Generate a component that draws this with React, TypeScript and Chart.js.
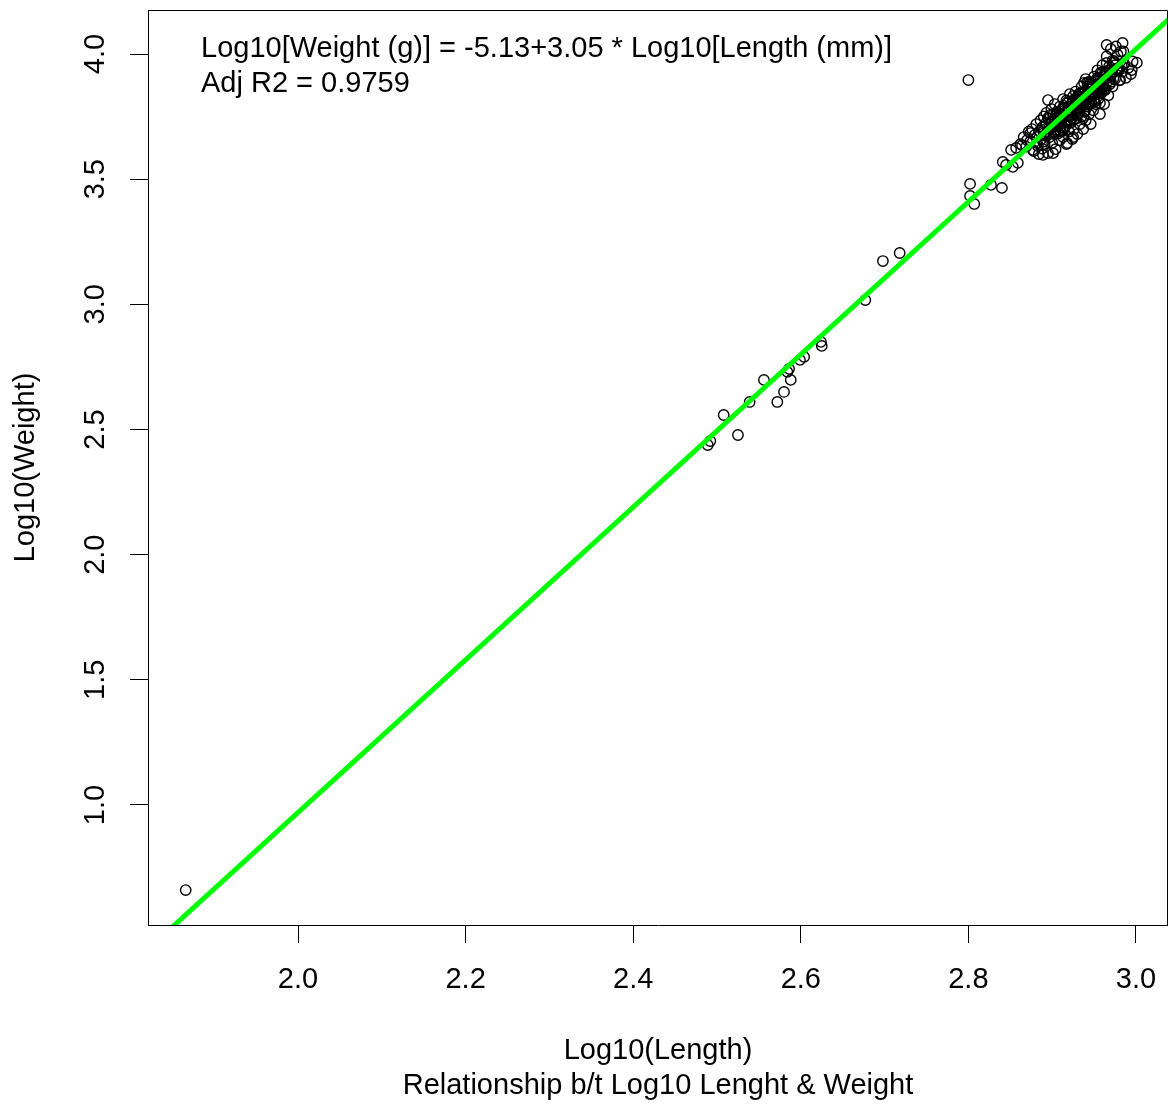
import React, { useEffect, useRef } from "react";
import { Chart, registerables } from "chart.js";

Chart.register(...registerables);

const FONT = '"Liberation Sans", Arial, Helvetica, sans-serif';

const logLength = [
  1.866, 2.489, 2.492, 2.508, 2.525, 2.539, 2.556, 2.572, 2.580, 2.588,
  2.584, 2.586, 2.599, 2.604, 2.625, 2.624, 2.677, 2.698, 2.718, 2.800,
  2.802, 2.802, 2.807, 2.827, 2.840, 2.841, 2.845, 2.853, 2.859, 2.851,
  2.857, 2.864, 2.870, 2.874, 2.877, 2.883, 2.889, 2.862, 2.866, 2.869,
  2.872, 2.874, 2.876, 2.878, 2.879, 2.881, 2.882, 2.884, 2.885, 2.886,
  2.887, 2.888, 2.889, 2.890, 2.890, 2.891, 2.892, 2.893, 2.894, 2.895,
  2.895, 2.896, 2.897, 2.898, 2.899, 2.900, 2.900, 2.901, 2.902, 2.903,
  2.904, 2.904, 2.905, 2.906, 2.907, 2.908, 2.909, 2.909, 2.910, 2.911,
  2.912, 2.913, 2.913, 2.914, 2.915, 2.916, 2.917, 2.917, 2.918, 2.919,
  2.920, 2.920, 2.921, 2.922, 2.923, 2.924, 2.924, 2.925, 2.926, 2.927,
  2.928, 2.929, 2.930, 2.930, 2.931, 2.932, 2.933, 2.934, 2.935, 2.935,
  2.936, 2.937, 2.938, 2.939, 2.940, 2.940, 2.941, 2.942, 2.943, 2.944,
  2.945, 2.946, 2.946, 2.947, 2.948, 2.949, 2.950, 2.951, 2.952, 2.953,
  2.954, 2.955, 2.956, 2.957, 2.958, 2.959, 2.960, 2.961, 2.962, 2.963,
  2.964, 2.965, 2.966, 2.967, 2.968, 2.969, 2.970, 2.971, 2.972, 2.973,
  2.975, 2.976, 2.978, 2.980, 2.982, 2.984, 2.986, 2.988, 2.991, 2.994,
  2.996, 3.001, 2.984, 2.965, 2.995, 2.981, 2.957, 2.937, 2.925, 2.918,
  2.901, 2.903, 2.908, 2.912, 2.915, 2.918, 2.922, 2.925, 2.928, 2.931,
  2.934, 2.937, 2.940, 2.943, 2.946, 2.949, 2.952, 2.956, 2.960, 2.964,
  2.968, 2.910, 2.914, 2.921, 2.926, 2.932, 2.938, 2.944, 2.950, 2.955,
  2.962, 2.906, 2.912, 2.919, 2.924, 2.930, 2.936, 2.942, 2.948, 2.954,
  2.960,
];

const logWeight = [
  0.660, 2.438, 2.454, 2.558, 2.478, 2.610, 2.698, 2.610, 2.650, 2.698,
  2.730, 2.742, 2.778, 2.790, 2.834, 2.850, 3.017, 3.173, 3.205, 3.896,
  3.481, 3.433, 3.401, 3.477, 3.465, 3.569, 3.557, 3.549, 3.565, 3.617,
  3.625, 3.636, 3.656, 3.684, 3.617, 3.632, 3.597, 3.640, 3.668, 3.630,
  3.690, 3.652, 3.700, 3.612, 3.676, 3.720, 3.644, 3.600, 3.692, 3.735,
  3.660, 3.622, 3.708, 3.684, 3.750, 3.640, 3.722, 3.765, 3.690, 3.816,
  3.604, 3.742, 3.668, 3.700, 3.780, 3.728, 3.645, 3.758, 3.690, 3.800,
  3.620, 3.735, 3.712, 3.770, 3.682, 3.745, 3.655, 3.790, 3.725, 3.760,
  3.700, 3.820, 3.668, 3.748, 3.785, 3.712, 3.640, 3.770, 3.735, 3.805,
  3.690, 3.760, 3.840, 3.725, 3.790, 3.660, 3.755, 3.815, 3.700, 3.778,
  3.850, 3.742, 3.805, 3.680, 3.762, 3.830, 3.720, 3.790, 3.870, 3.750,
  3.812, 3.700, 3.845, 3.770, 3.900, 3.735, 3.822, 3.790, 3.860, 3.760,
  3.835, 3.880, 3.720, 3.805, 3.850, 3.775, 3.910, 3.840, 3.800, 3.880,
  3.935, 3.820, 3.862, 3.760, 3.900, 3.845, 3.955, 3.880, 3.800, 3.925,
  3.860, 3.990, 3.905, 3.835, 3.950, 3.880, 4.020, 3.925, 3.870, 3.965,
  3.900, 4.030, 3.940, 3.895, 4.010, 3.930, 3.960, 3.905, 3.945, 3.920,
  3.970, 3.965, 4.044, 4.036, 3.936, 3.896, 3.804, 3.744, 3.668, 3.644,
  3.604, 3.735, 3.715, 3.742, 3.730, 3.765, 3.752, 3.770, 3.795, 3.785,
  3.810, 3.795, 3.820, 3.835, 3.830, 3.850, 3.862, 3.880, 3.895, 3.915,
  3.920, 3.690, 3.705, 3.735, 3.740, 3.765, 3.770, 3.800, 3.820, 3.845,
  3.860, 3.760, 3.780, 3.790, 3.805, 3.830, 3.845, 3.870, 3.880, 3.905,
  3.925,
];

// Extra fish in the dense core of the cluster
const coreLength = [
  2.888, 2.893, 2.898, 2.903, 2.908, 2.913, 2.918, 2.923, 2.928, 2.933,
  2.938, 2.943, 2.948, 2.953, 2.958, 2.963, 2.968, 2.973, 2.978, 2.983,
  2.890, 2.895, 2.900, 2.905, 2.910, 2.915, 2.920, 2.925, 2.930, 2.935,
  2.940, 2.945, 2.950, 2.955, 2.960, 2.965, 2.970, 2.975, 2.980, 2.985,
  2.889, 2.894, 2.899, 2.904, 2.909, 2.914, 2.919, 2.924, 2.929, 2.934,
  2.939, 2.944, 2.949, 2.954, 2.959, 2.964, 2.969, 2.974,
  2.892, 2.897, 2.902, 2.907, 2.912, 2.917, 2.922, 2.927, 2.932, 2.937,
  2.942, 2.947, 2.952, 2.957, 2.962, 2.967, 2.972, 2.977,
];

const coreWeight = [
  3.707, 3.672, 3.757, 3.683, 3.748, 3.693, 3.808, 3.774, 3.819, 3.784,
  3.885, 3.800, 3.865, 3.850, 3.926, 3.856, 3.936, 3.902, 3.997, 3.952,
  3.650, 3.745, 3.710, 3.756, 3.691, 3.776, 3.751, 3.832, 3.762, 3.827,
  3.823, 3.883, 3.808, 3.903, 3.869, 3.964, 3.889, 3.955, 3.940, 4.010,
  3.692, 3.687, 3.732, 3.697, 3.743, 3.793, 3.753, 3.803, 3.769, 3.844,
  3.829, 3.889, 3.835, 3.890, 3.850, 3.930, 3.916, 3.971,
  3.674, 3.709, 3.680, 3.765, 3.740, 3.815, 3.731, 3.796, 3.841, 3.806,
  3.887, 3.847, 3.892, 3.847, 3.913, 3.893, 3.973, 3.943,
];

// Fitted regression line end points: Log10 W = -5.13 + 3.05 * Log10 L
const fitLength = [1.8, 3.06];
const fitWeight = [0.36, 4.203];

const xTickValues = [2.0, 2.2, 2.4, 2.6, 2.8, 3.0];
const yTickValues = [1.0, 1.5, 2.0, 2.5, 3.0, 3.5, 4.0];

const equationText = [
  "Log10[Weight (g)] = -5.13+3.05 * Log10[Length (mm)]",
  "Adj R2 = 0.9759",
];
const xAxisTitle = "Log10(Length)";
const subTitle = "Relationship b/t Log10 Lenght & Weight";
const yAxisTitle = "Log10(Weight)";

const boxPlugin = {
  id: "rbox",
  afterDraw(chart: any) {
    const { ctx, chartArea } = chart;
    ctx.save();
    ctx.strokeStyle = "#000";
    ctx.lineWidth = 1;
    ctx.beginPath();
    const l = Math.round(chartArea.left) + 0.5;
    const t = Math.round(chartArea.top) + 0.5;
    const r = Math.round(chartArea.right) - 0.5;
    const b = Math.round(chartArea.bottom) + 0.5;
    ctx.moveTo(l, t);
    ctx.lineTo(r, t);
    ctx.lineTo(r, b);
    ctx.stroke();
    ctx.fillStyle = "#000";
    ctx.font = `29px ${FONT}`;
    ctx.textAlign = "left";
    ctx.textBaseline = "middle";
    ctx.fillText(equationText[0], 201, 49);
    ctx.fillText(equationText[1], 201, 84);
    ctx.restore();
  },
};

export default function App() {
  const ref = useRef<HTMLCanvasElement | null>(null);

  useEffect(() => {
    if (!ref.current) return;
    const points = logLength
      .map((x, i) => ({ x, y: logWeight[i] }))
      .concat(coreLength.map((x, i) => ({ x, y: coreWeight[i] })));
    const fit = fitLength.map((x, i) => ({ x, y: fitWeight[i] }));
    const chart = new Chart(ref.current, {
      type: "scatter",
      data: {
        datasets: [
          {
            type: "line",
            data: fit,
            borderColor: "#00ff00",
            borderWidth: 5,
            pointRadius: 0,
            fill: false,
            order: 0,
          } as any,
          {
            data: points,
            pointStyle: "circle",
            pointRadius: 5.2,
            pointHoverRadius: 5.2,
            pointBorderWidth: 1.4,
            borderColor: "#000",
            pointBorderColor: "#000",
            backgroundColor: "rgba(0,0,0,0)",
            pointBackgroundColor: "rgba(0,0,0,0)",
            order: 1,
          } as any,
        ],
      },
      options: {
        animation: false,
        responsive: false,
        maintainAspectRatio: false,
        events: [],
        layout: { autoPadding: false, padding: { top: 10, right: 0, left: 0, bottom: 0 } },
        plugins: {
          legend: { display: false },
          tooltip: { enabled: false },
        },
        scales: {
          x: {
            type: "linear",
            min: 1.821,
            max: 3.0382,
            afterBuildTicks: (s: any) => {
              s.ticks = xTickValues.map((v) => ({ value: v }));
            },
            afterFit: (s: any) => {
              s.height = 181;
              s.paddingLeft = 0;
              s.paddingRight = 0;
            },
            ticks: {
              autoSkip: false,
              maxRotation: 0,
              minRotation: 0,
              padding: 20,
              color: "#000",
              font: { family: FONT, size: 29 },
              callback: (v: any) => Number(v).toFixed(1),
            },
            grid: {
              drawOnChartArea: false,
              drawTicks: true,
              tickLength: 18,
              color: "#000",
              lineWidth: 1,
            },
            border: { display: true, color: "#000", width: 1 },
            title: {
              display: true,
              text: [xAxisTitle, subTitle],
              color: "#000",
              font: { family: FONT, size: 29, lineHeight: 1.2 },
              padding: { top: 0, bottom: 3 },
            },
          },
          y: {
            type: "linear",
            min: 0.5206,
            max: 4.1758,
            afterBuildTicks: (s: any) => {
              s.ticks = yTickValues.map((v) => ({ value: v }));
            },
            afterFit: (s: any) => {
              s.width = 148;
              s.paddingTop = 0;
              s.paddingBottom = 0;
            },
            ticks: {
              autoSkip: false,
              minRotation: 90,
              maxRotation: 90,
              crossAlign: "center",
              padding: 14,
              color: "#000",
              font: { family: FONT, size: 29 },
              callback: (v: any) => Number(v).toFixed(1),
            },
            grid: {
              drawOnChartArea: false,
              drawTicks: true,
              tickLength: 18,
              color: "#000",
              lineWidth: 1,
            },
            border: { display: true, color: "#000", width: 1 },
            title: {
              display: true,
              text: yAxisTitle,
              color: "#000",
              font: { family: FONT, size: 29, lineHeight: 1.2 },
              padding: { top: 9, bottom: 0 },
            },
          },
        },
      } as any,
      plugins: [boxPlugin],
    });
    return () => chart.destroy();
  }, []);

  return (
    <div style={{ position: "absolute", left: 0, top: 0, width: 1168, height: 1106, background: "#fff" }}>
      <canvas ref={ref} width={1168} height={1106} style={{ width: 1168, height: 1106, display: "block" }} />
    </div>
  );
}
